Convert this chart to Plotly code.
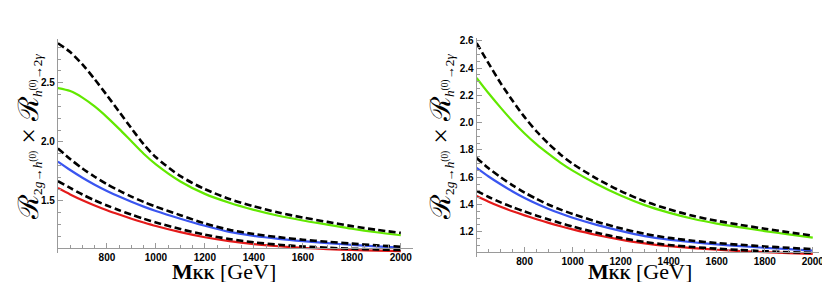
import plotly.graph_objects as go

# ---------------- data ----------------
M_KK = [600, 650, 700, 750, 800, 850, 900, 950, 1000, 1100, 1200, 1300, 1400, 1500, 1600, 1700, 1800, 1900, 2000]

# left panel
L_green = [2.455, 2.43, 2.375, 2.30, 2.21, 2.11, 2.005, 1.90, 1.81, 1.665, 1.56, 1.485, 1.425, 1.375, 1.335, 1.30, 1.265, 1.235, 1.21]
L_green_dash = [2.835, 2.76, 2.655, 2.53, 2.395, 2.255, 2.115, 1.98, 1.87, 1.71, 1.60, 1.517, 1.455, 1.402, 1.36, 1.323, 1.287, 1.256, 1.23]
L_blue = [1.833, 1.762, 1.697, 1.638, 1.585, 1.537, 1.493, 1.452, 1.415, 1.35, 1.29, 1.238, 1.205, 1.18, 1.16, 1.143, 1.129, 1.116, 1.105]
L_blue_dash = [1.945, 1.855, 1.775, 1.705, 1.642, 1.587, 1.537, 1.492, 1.452, 1.38, 1.31, 1.256, 1.22, 1.194, 1.172, 1.155, 1.139, 1.125, 1.113]
L_red = [1.609, 1.555, 1.506, 1.462, 1.422, 1.385, 1.35, 1.318, 1.288, 1.236, 1.193, 1.16, 1.135, 1.117, 1.103, 1.093, 1.085, 1.08, 1.076]
L_red_dash = [1.668, 1.61, 1.555, 1.505, 1.462, 1.422, 1.384, 1.35, 1.318, 1.262, 1.215, 1.178, 1.15, 1.13, 1.115, 1.104, 1.096, 1.09, 1.085]

# right panel
R_green = [2.328, 2.215, 2.11, 2.01, 1.92, 1.84, 1.77, 1.705, 1.648, 1.55, 1.465, 1.395, 1.34, 1.295, 1.26, 1.232, 1.205, 1.18, 1.157]
R_green_dash = [2.583, 2.435, 2.29, 2.16, 2.04, 1.935, 1.845, 1.765, 1.698, 1.59, 1.498, 1.423, 1.365, 1.317, 1.28, 1.25, 1.222, 1.196, 1.171]
R_blue = [1.668, 1.605, 1.548, 1.495, 1.447, 1.405, 1.367, 1.333, 1.302, 1.25, 1.206, 1.168, 1.142, 1.123, 1.107, 1.094, 1.082, 1.072, 1.062]
R_blue_dash = [1.741, 1.665, 1.60, 1.54, 1.487, 1.44, 1.398, 1.362, 1.33, 1.274, 1.225, 1.185, 1.155, 1.134, 1.117, 1.104, 1.092, 1.082, 1.072]
R_red = [1.462, 1.42, 1.383, 1.35, 1.32, 1.292, 1.265, 1.24, 1.217, 1.176, 1.142, 1.114, 1.094, 1.08, 1.068, 1.058, 1.05, 1.043, 1.037]
R_red_dash = [1.499, 1.455, 1.415, 1.38, 1.348, 1.318, 1.29, 1.263, 1.238, 1.193, 1.155, 1.125, 1.103, 1.088, 1.076, 1.066, 1.057, 1.05, 1.045]

x_ticks = [800, 1000, 1200, 1400, 1600, 1800, 2000]
L_yticks = [1.5, 2.0, 2.5]
L_yticktext = ["1.5", "2.0", "2.5"]
R_yticks = [1.2, 1.4, 1.6, 1.8, 2.0, 2.2, 2.4, 2.6]
R_yticktext = ["1.2", "1.4", "1.6", "1.8", "2.0", "2.2", "2.4", "2.6"]

# ---------------- style ----------------
W, H = 830, 282
GREEN = "#62e800"
BLUE = "#3a55f0"
RED = "#e41a1a"
AX = "#9a9a9a"
SERIF = "Liberation Serif, DejaVu Serif, serif"
TICKFONT = dict(family="Liberation Sans, Arial, sans-serif", size=10, color="black", weight="bold")
DASH = dict(color="black", width=2.6, dash="7px,3.5px", shape="spline", smoothing=0.8)


def px_x(p):
    return p / W


def px_y(p):
    return 1 - p / H


fig = go.Figure()


def add_lines(xa, ya, solid, dashed):
    for ys, col in solid:
        fig.add_trace(go.Scatter(x=M_KK, y=ys, mode="lines", xaxis=xa, yaxis=ya,
                                 line=dict(color=col, width=2.2, shape="spline", smoothing=0.8),
                                 showlegend=False, hoverinfo="skip"))
    for ys in dashed:
        fig.add_trace(go.Scatter(x=M_KK, y=ys, mode="lines", xaxis=xa, yaxis=ya,
                                 line=DASH, showlegend=False, hoverinfo="skip"))


add_lines("x", "y", [(L_green, GREEN), (L_blue, BLUE), (L_red, RED)],
          [L_green_dash, L_blue_dash, L_red_dash])
add_lines("x2", "y2", [(R_green, GREEN), (R_blue, BLUE), (R_red, RED)],
          [R_green_dash, R_blue_dash, R_red_dash])

# panel geometry
L_yr = [1.06, 2.87]
L_ydom = [px_y(244.7), px_y(29.3)]
L_xaxis_val = 1.105
L_xpos = L_ydom[0] + (L_xaxis_val - L_yr[0]) / (L_yr[1] - L_yr[0]) * (L_ydom[1] - L_ydom[0])

R_yr = [1.013, 2.622]
R_ydom = [px_y(249), px_y(28)]
R_xaxis_val = 1.048
R_xpos = R_ydom[0] + (R_xaxis_val - R_yr[0]) / (R_yr[1] - R_yr[0]) * (R_ydom[1] - R_ydom[0])

common_x = dict(showgrid=False, zeroline=False, showline=True, linecolor=AX, linewidth=1,
                ticks="inside", ticklen=5, tickcolor=AX, tickwidth=1,
                tickmode="array", tickvals=x_ticks, tickfont=TICKFONT,
                minor=dict(tickmode="linear", tick0=600, dtick=50, ticks="inside", ticklen=3, tickcolor=AX, showgrid=False),
                anchor="free")
common_y = dict(showgrid=False, zeroline=False, showline=True, linecolor=AX, linewidth=1,
                ticks="inside", ticklen=5, tickcolor=AX, tickwidth=1,
                tickmode="array", tickfont=TICKFONT)

fig.update_layout(
    width=W, height=H,
    margin=dict(l=0, r=0, t=0, b=0),
    paper_bgcolor="white", plot_bgcolor="white",
    xaxis=dict(common_x, range=[600, 2050], domain=[px_x(50.3), px_x(408)], position=L_xpos),
    yaxis=dict(common_y, range=L_yr, domain=L_ydom, anchor="x",
               tickvals=L_yticks, ticktext=L_yticktext,
               minor=dict(tickmode="linear", tick0=1.0, dtick=0.1, ticks="inside", ticklen=3, tickcolor=AX, showgrid=False)),
    xaxis2=dict(common_x, range=[600, 2025], domain=[px_x(472), px_x(816.7)], position=R_xpos),
    yaxis2=dict(common_y, range=R_yr, domain=R_ydom, anchor="x2",
                tickvals=R_yticks, ticktext=R_yticktext,
                minor=dict(tickmode="linear", tick0=1.0, dtick=0.05, ticks="inside", ticklen=3, tickcolor=AX, showgrid=False)),
)

ytitle = ("ℛ<span style='font-size:19px'><sub>2<i>g</i>→<i>h</i><sup>(0)</sup></sub></span> × "
          "ℛ<span style='font-size:19px'><sub><i>h</i><sup>(0)</sup>→2<i>γ</i></sub></span>")
xtitle = "<b>M</b><span style='font-size:14px'><b>KK</b></span> [GeV]"

for xc in (21, 436):
    fig.add_annotation(text=ytitle, x=px_x(xc), y=px_y(128), xref="paper", yref="paper",
                       textangle=-90, showarrow=False, font=dict(family=SERIF, size=28, color="black"),
                       xanchor="center", yanchor="middle")
for xc in (218, 637):
    fig.add_annotation(text=xtitle, x=px_x(xc), y=px_y(263), xref="paper", yref="paper",
                       showarrow=False, font=dict(family=SERIF, size=22, color="black"),
                       xanchor="center", yanchor="middle")

fig.write_html("out.html")
